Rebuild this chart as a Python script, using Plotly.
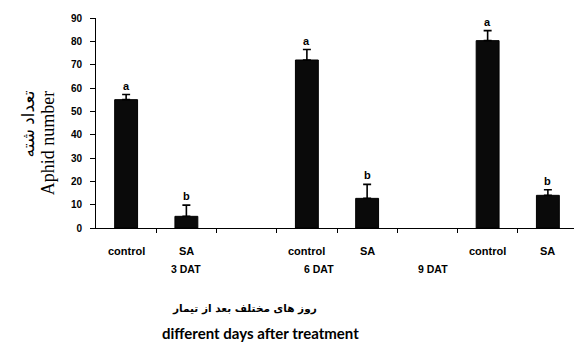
import plotly.graph_objects as go

treatments = ["control", "SA", "control", "SA", "control", "SA"]
slots = [1, 2, 4, 5, 7, 8]
values = [55, 5, 72, 12.7, 80.3, 14]
errors = [2.2, 4.8, 4.5, 6, 4.3, 2.4]
letters = ["a", "b", "a", "b", "a", "b"]
group_labels = ["3 DAT", "6 DAT", "9 DAT"]
group_pos = [2, 4.2, 6.1]
boundaries = [1.5, 2.5, 3.5, 4.5, 5.5, 6.5, 7.5, 8.5]
yticks = [0, 10, 20, 30, 40, 50, 60, 70, 80, 90]

# page body has an 8px margin; figure is sized so the plot lands where the reference has it
OFF = 8
W, H = 582 - OFF, 345 - OFF
L, R, T, B = 96 - OFF, 4, 15 - OFF, 345 - OFF - (228 - OFF)
PW = W - L - R
PH = H - T - B


def px(xw):
    return (xw - OFF - L) / PW


def py(yw):
    return (H - B - (yw - OFF)) / PH


fig = go.Figure()
fig.add_trace(go.Bar(
    x=slots, y=values, width=0.38,
    marker=dict(color="#0a0a0a", line=dict(color="#000", width=1)),
    error_y=dict(type="data", array=errors, arrayminus=[0]*len(errors),
                 symmetric=False, color="#000", thickness=1.6, width=4),
    showlegend=False,
))

ann = []
for xs, v, e, l in zip(slots, values, errors, letters):
    ann.append(dict(x=xs, y=v + e, xref="x", yref="y", text=f"<b>{l}</b>",
                    showarrow=False, yanchor="bottom", yshift=1,
                    font=dict(family="Liberation Sans", size=11, color="#000")))
for xs, t in zip(slots, treatments):
    ann.append(dict(x=xs, y=py(251), xref="x", yref="paper", text=f"<b>{t}</b>",
                    showarrow=False, yanchor="middle",
                    font=dict(family="Liberation Sans", size=11, color="#000")))
for xs, t in zip(group_pos, group_labels):
    ann.append(dict(x=xs, y=py(270), xref="x", yref="paper", text=f"<b>{t}</b>",
                    showarrow=False, yanchor="middle",
                    font=dict(family="Liberation Sans", size=10.5, color="#000")))
# RTL text is drawn shifted right by about half its width, so anchor it further left
ann.append(dict(x=px(170), y=py(310), xref="paper", yref="paper",
                text="<b>روز های مختلف بعد از تیمار</b>",
                showarrow=False, yanchor="middle",
                font=dict(family="DejaVu Sans", size=10.5, color="#000")))
ann.append(dict(x=px(260), y=py(335), xref="paper", yref="paper",
                text="<b>different days after treatment</b>",
                showarrow=False, yanchor="middle",
                font=dict(family="Lato", size=15, color="#000")))
ann.append(dict(x=px(48), y=py(142), xref="paper", yref="paper",
                text="Aphid number", textangle=-90, showarrow=False,
                xanchor="center", yanchor="middle",
                font=dict(family="Liberation Serif", size=18, color="#000")))
ann.append(dict(x=px(28), y=py(123), xref="paper", yref="paper",
                text="تعداد شته", textangle=-90, showarrow=False,
                xanchor="center", yanchor="middle",
                font=dict(family="Liberation Serif, DejaVu Sans", size=17, color="#000")))

fig.update_layout(
    width=W, height=H,
    margin=dict(l=L, r=R, t=T, b=B),
    paper_bgcolor="white", plot_bgcolor="white",
    annotations=ann,
    xaxis=dict(range=[0.5, 8.5], tickvals=boundaries, ticktext=[""] * len(boundaries),
               ticks="outside", ticklen=4, tickcolor="#000", showline=True,
               linecolor="#000", linewidth=1, showgrid=False, zeroline=False),
    yaxis=dict(range=[0, 90], tickvals=yticks, ticktext=[f"<b>{v}</b>" for v in yticks],
               ticks="outside", ticklen=5, tickcolor="#000", showline=True,
               linecolor="#000", linewidth=1, showgrid=False, zeroline=False,
               tickfont=dict(family="Liberation Sans", size=10, color="#000"),
               ticklabelstandoff=6),
)

fig.write_html("out.html")
